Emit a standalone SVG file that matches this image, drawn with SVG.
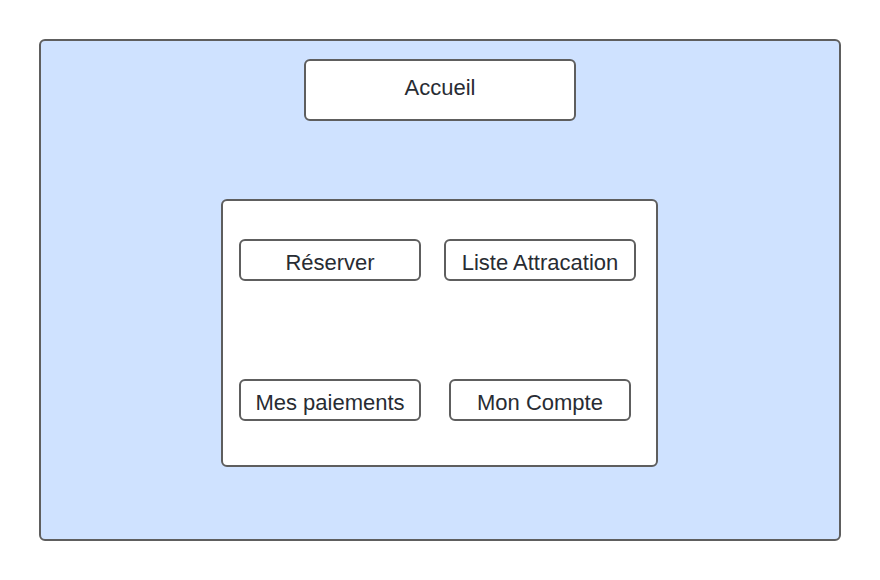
<svg xmlns="http://www.w3.org/2000/svg" width="880" height="580" viewBox="0 0 880 580">
<style>
.box{fill:#ffffff;stroke:#5e5e5e;stroke-width:2}
.outer{fill:#cfe2ff;stroke:#5e5e5e;stroke-width:2}
.t{font-family:"Liberation Sans",Arial,sans-serif;font-size:22px;fill:#282c33;text-anchor:middle;dominant-baseline:central}
</style>
<rect width="880" height="580" fill="#ffffff"/>
<g id="container"><rect class="outer" x="40" y="40" width="800" height="500" rx="5"/></g>
<g id="accueil"><rect class="box" x="305" y="60" width="270" height="60" rx="5"/><text class="t" x="440" y="87">Accueil</text></g>
<g id="menu"><rect class="box" x="222" y="200" width="435" height="266" rx="5"/></g>
<g id="reserver"><rect class="box" x="240" y="240" width="180" height="40" rx="5"/><text class="t" x="330" y="262">Réserver</text></g>
<g id="liste"><rect class="box" x="445" y="240" width="190" height="40" rx="5"/><text class="t" x="540" y="262">Liste Attracation</text></g>
<g id="paiements"><rect class="box" x="240" y="380" width="180" height="40" rx="5"/><text class="t" x="330" y="402">Mes paiements</text></g>
<g id="compte"><rect class="box" x="450" y="380" width="180" height="40" rx="5"/><text class="t" x="540" y="402">Mon Compte</text></g>
<g id="connectors"></g>
</svg>
